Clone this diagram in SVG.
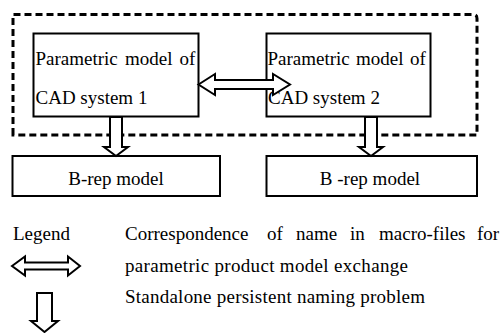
<svg xmlns="http://www.w3.org/2000/svg" width="502" height="333" viewBox="0 0 502 333">
<style>
.t{font-family:"Liberation Serif","Times New Roman",serif;font-size:19px;fill:#000}
.box{fill:#fff;stroke:#000;stroke-width:2}
.arr{fill:#fff;stroke:#000;stroke-width:2;stroke-linejoin:miter}
.dash{fill:none;stroke:#000;stroke-width:3;stroke-dasharray:7 4}
</style>
<rect width="502" height="333" fill="#fff"/>
<path class="dash" d="M13,135 V14.5 H473 Q477,14.5 477,18.5 V135 Z"/>
<g id="cad1" font-family="Liberation Serif, Times New Roman, serif" font-size="19">
<rect class="box" x="33.5" y="33.5" width="165" height="83"/>
<text class="t"><tspan x="35.5" y="65">Parametric</tspan><tspan x="125" y="65">model</tspan><tspan x="179.5" y="65">of</tspan><tspan x="35.5" y="104">CAD system 1</tspan></text>
</g>
<g id="cad2" font-family="Liberation Serif, Times New Roman, serif" font-size="19">
<rect class="box" x="266.5" y="33.5" width="164" height="83"/>
<text class="t"><tspan x="267.5" y="65">Parametric</tspan><tspan x="356" y="65">model</tspan><tspan x="410" y="65">of</tspan><tspan x="268" y="104">CAD system 2</tspan></text>
</g>
<g id="brep1" font-family="Liberation Serif, Times New Roman, serif" font-size="19">
<rect class="box" x="12.5" y="156" width="207.5" height="40"/>
<text class="t" x="116" y="185" text-anchor="middle">B-rep model</text>
</g>
<g id="brep2" font-family="Liberation Serif, Times New Roman, serif" font-size="19">
<rect class="box" x="266.5" y="156" width="210.5" height="40"/>
<text class="t" x="370" y="185" text-anchor="middle">B -rep model</text>
</g>
<g id="connectors">
<polygon class="arr" points="198.5,84.5 215,74 215,80 273,80 273,74 290,84.5 273,95 273,89 215,89 215,95"/>
<polygon class="arr" points="110,117 122,117 122,147 128,147 116,156 104,147 110,147"/>
<polygon class="arr" points="365,117 377,117 377,147 383,147 371,156 359,147 365,147"/>
</g>
<g id="legend" font-family="Liberation Serif, Times New Roman, serif" font-size="19">
<text class="t" x="13" y="240">Legend</text>
<polygon class="arr" points="12,266 25,256.5 25,262.5 68,262.5 68,256.5 80,266 68,275.5 68,269.5 25,269.5 25,275.5"/>
<polygon class="arr" points="37,293 52,293 52,321 58,321 44.5,332 31,321 37,321"/>
<text class="t" y="240"><tspan x="125">Correspondence</tspan><tspan x="267">of</tspan><tspan x="296">name</tspan><tspan x="350">in</tspan><tspan x="379">macro-files</tspan><tspan x="477">for</tspan></text>
<text class="t" x="125" y="272" textLength="283" lengthAdjust="spacing">parametric product model exchange</text>
<text class="t" x="125" y="303" textLength="300" lengthAdjust="spacing">Standalone persistent naming problem</text>
</g>
</svg>
